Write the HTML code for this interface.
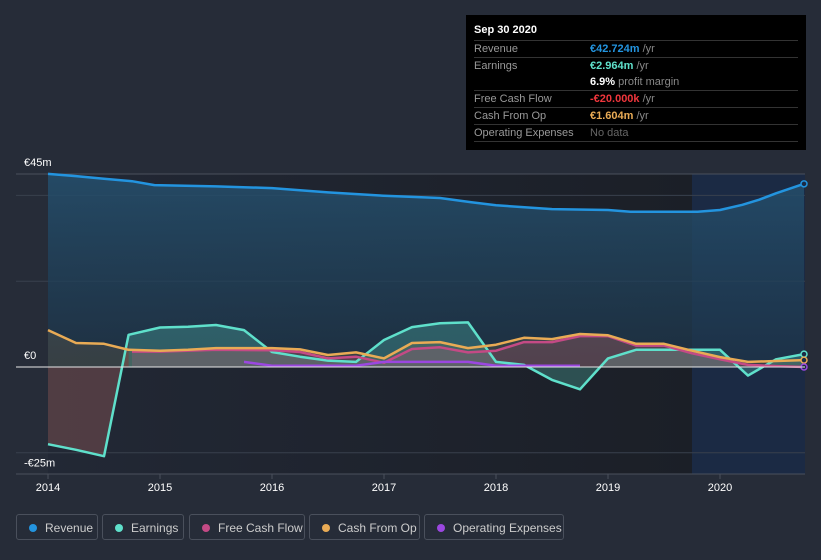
<!DOCTYPE html>
<html><head><meta charset="utf-8"><style>
body{margin:0;width:821px;height:560px;background:#262c38;font-family:"Liberation Sans",sans-serif;overflow:hidden;position:relative}
svg{position:absolute;left:0;top:0}
.tip{position:absolute;left:466px;top:15px;width:340px;height:135px;background:#000;color:#fff;font-size:11px}
.tip .h{position:absolute;left:8px;top:9px;font-weight:bold}
.row{position:absolute;left:8px;width:324px;height:16px;border-top:1px solid #333}
.row span{position:absolute;top:2px}
.l{left:0;color:#999}.v{left:116px;color:#888}
.leg{position:absolute;top:514px;height:26px;border:1px solid #4a505c;border-radius:3px;color:#ccc;font-size:12px;line-height:26px;box-sizing:border-box}
.leg i{position:absolute;left:12px;top:9px;width:8px;height:8px;border-radius:50%}
.leg span{position:absolute;left:28px}
</style></head><body>
<svg width="821" height="560" id="svg">
<defs>
<linearGradient id="bg" x1="0" x2="1" y1="0" y2="0"><stop offset="0" stop-color="#222835"/><stop offset="1" stop-color="#1b1f27"/></linearGradient>
<linearGradient id="rv" x1="0" x2="0" y1="0" y2="1"><stop offset="0" stop-color="#25506e" stop-opacity="0.85"/><stop offset="1" stop-color="#1d3448" stop-opacity="0.7"/></linearGradient>
</defs>
<rect x="48" y="174" width="644" height="300" fill="url(#bg)"/>
<rect x="692" y="174" width="113" height="300" fill="#1b2a44"/>
<g id="grid"></g><g id="marks"></g><g id="axes"></g>
</svg>
<div class="tip">
<div class="h">Sep 30 2020</div>
<div class="row" style="top:25px"><span class="l">Revenue</span><span class="v"><b style="color:#2394df">€42.724m</b> /yr</span></div>
<div class="row" style="top:42px;height:32px"><span class="l">Earnings</span><span class="v"><b style="color:#5fe0cb">€2.964m</b> /yr</span><span class="v" style="top:18px"><b style="color:#fff">6.9%</b> profit margin</span></div>
<div class="row" style="top:75px"><span class="l">Free Cash Flow</span><span class="v"><b style="color:#f0363c">-€20.000k</b> /yr</span></div>
<div class="row" style="top:92px"><span class="l">Cash From Op</span><span class="v"><b style="color:#e9ab55">€1.604m</b> /yr</span></div>
<div class="row" style="top:109px;border-bottom:1px solid #333"><span class="l">Operating Expenses</span><span class="v" style="color:#666">No data</span></div>
</div>
<div class="leg" style="left:16px;width:82px"><i style="background:#2394df"></i><span>Revenue</span></div>
<div class="leg" style="left:102px;width:82px"><i style="background:#5fe0cb"></i><span>Earnings</span></div>
<div class="leg" style="left:189px;width:116px"><i style="background:#c44a85"></i><span>Free Cash Flow</span></div>
<div class="leg" style="left:309px;width:111px"><i style="background:#e9ab55"></i><span>Cash From Op</span></div>
<div class="leg" style="left:424px;width:140px"><i style="background:#9b47e0"></i><span>Operating Expenses</span></div>
<script>
const revT=[2014,2014.25,2014.5,2014.75,2014.95,2015.5,2016,2016.5,2017,2017.5,2017.78,2018,2018.5,2019,2019.2,2019.8,2020,2020.2,2020.35,2020.5,2020.75];
const revV=[45,44.5,43.9,43.3,42.4,42.1,41.7,40.7,39.9,39.4,38.4,37.7,36.8,36.6,36.2,36.2,36.6,37.8,39,40.5,42.7];
const qT=[2014,2014.25,2014.5,2014.72,2015,2015.25,2015.5,2015.75,2016,2016.25,2016.5,2016.75,2017,2017.25,2017.5,2017.75,2018,2018.25,2018.5,2018.75,2019,2019.25,2019.5,2019.75,2020,2020.25,2020.5,2020.75];
const earnV=[-18,-19.3,-20.8,7.5,9.2,9.4,9.8,8.6,3.5,2.4,1.5,1.2,6.3,9.3,10.2,10.4,1.2,0.5,-3,-5.2,2,4,4,4,4,-2,1.8,3];
const cfoV=[8.6,5.6,5.4,4,3.8,4,4.4,4.4,4.4,4.1,2.8,3.4,2,5.6,5.8,4.4,5.2,6.8,6.5,7.7,7.4,5.4,5.4,3.8,2.3,1.2,1.4,1.6];
const fcfT=[2014.75,2015,2015.5,2016,2016.25,2016.5,2016.75,2017,2017.25,2017.5,2017.75,2018,2018.25,2018.5,2018.75,2019,2019.25,2019.5,2019.75,2020,2020.25,2020.5,2020.75];
const fcfV=[3.6,3.6,4,3.9,3.5,2,2.4,1,4.2,4.6,3.4,3.8,5.8,5.8,7.2,7.2,5,5,3.2,1.8,0.5,0.2,0];
const opxT=[2015.75,2016,2016.5,2016.75,2017,2017.25,2017.75,2018,2018.75];
const opxV=[1.2,0.3,0.3,0.3,1.2,1.2,1.2,0.3,0.3];
const yTicks=[45,0,-25];const yTickLabels=["€45m","€0","-€25m"];const gridV=[40,20,-20];
const xTicks=[2014,2015,2016,2017,2018,2019,2020];
const X=t=>48+(t-2014)*112, Y=v=>367-v*4.29;
const NS="http://www.w3.org/2000/svg";
function mk(tag,attrs,parent){const e=document.createElementNS(NS,tag);for(const k in attrs)e.setAttribute(k,attrs[k]);document.getElementById(parent).appendChild(e);return e;}
function pts(T,V){return T.map((t,i)=>X(t).toFixed(1)+","+Y(V[i]).toFixed(1)).join(" ");}
function area(T,V,fill,name){const p=pts(T,V)+" "+X(T[T.length-1])+","+Y(0)+" "+X(T[0])+","+Y(0);const e=mk("polygon",{points:p,fill:fill},"marks");

}
function line(T,V,c,name){const e=mk("polyline",{points:pts(T,V),fill:"none",stroke:c,"stroke-width":2.5,"stroke-linejoin":"round"},"marks");

}
gridV.forEach(v=>{const e=mk("line",{x1:16,x2:805,y1:Y(v),y2:Y(v),stroke:"#39404d"},"grid");

});
mk("line",{x1:16,x2:805,y1:Y(45),y2:Y(45),stroke:"#4a505c"},"grid");
area(revT,revV,"url(#rv)","revenue-area");
area(qT,earnV,"rgba(95,224,203,0.25)","earnings-area");
mk("polygon",{points:pts(qT.slice(0,4),earnV.slice(0,4))+" "+X(2014.72)+","+Y(0)+" "+X(2014)+","+Y(0),fill:"rgba(120,30,40,0.45)"},"marks");
area(fcfT,fcfV,"rgba(196,74,133,0.2)","fcf-area");
area(qT,cfoV,"rgba(233,171,85,0.12)","cfo-area");
line(revT,revV,"#2394df","revenue-line");
line(qT,earnV,"#5fe0cb","earnings-line");
line(fcfT,fcfV,"#c44a85","fcf-line");
line(qT,cfoV,"#e9ab55","cfo-line");
line(opxT,opxV,"#9b47e0","opex-line");
mk("line",{x1:16,x2:805,y1:Y(0),y2:Y(0),stroke:"#e8e8e8","stroke-width":1},"axes");
mk("line",{x1:16,x2:805,y1:474,y2:474,stroke:"#4a505c"},"axes");
[[revV,"#2394df"],[earnV,"#5fe0cb"],[cfoV,"#e9ab55"],[fcfV,"#9b47e0"]].forEach(([V,c])=>{const e=mk("circle",{cx:X(2020.75),cy:Y(V[V.length-1]),r:3,fill:"#1b2a44",stroke:c,"stroke-width":1.5},"marks");

});
yTicks.forEach((v,i)=>{const t=mk("text",{x:24,y:Y(v)-8,fill:"#fff","font-size":11},"axes");t.textContent=yTickLabels[i];

});
xTicks.forEach(t=>{mk("line",{x1:X(t),x2:X(t),y1:474,y2:479,stroke:"#4a505c"},"axes");const e=mk("text",{x:X(t),y:491,fill:"#fff","font-size":11,"text-anchor":"middle"},"axes");e.textContent=t;

});
</script>
</body></html>
